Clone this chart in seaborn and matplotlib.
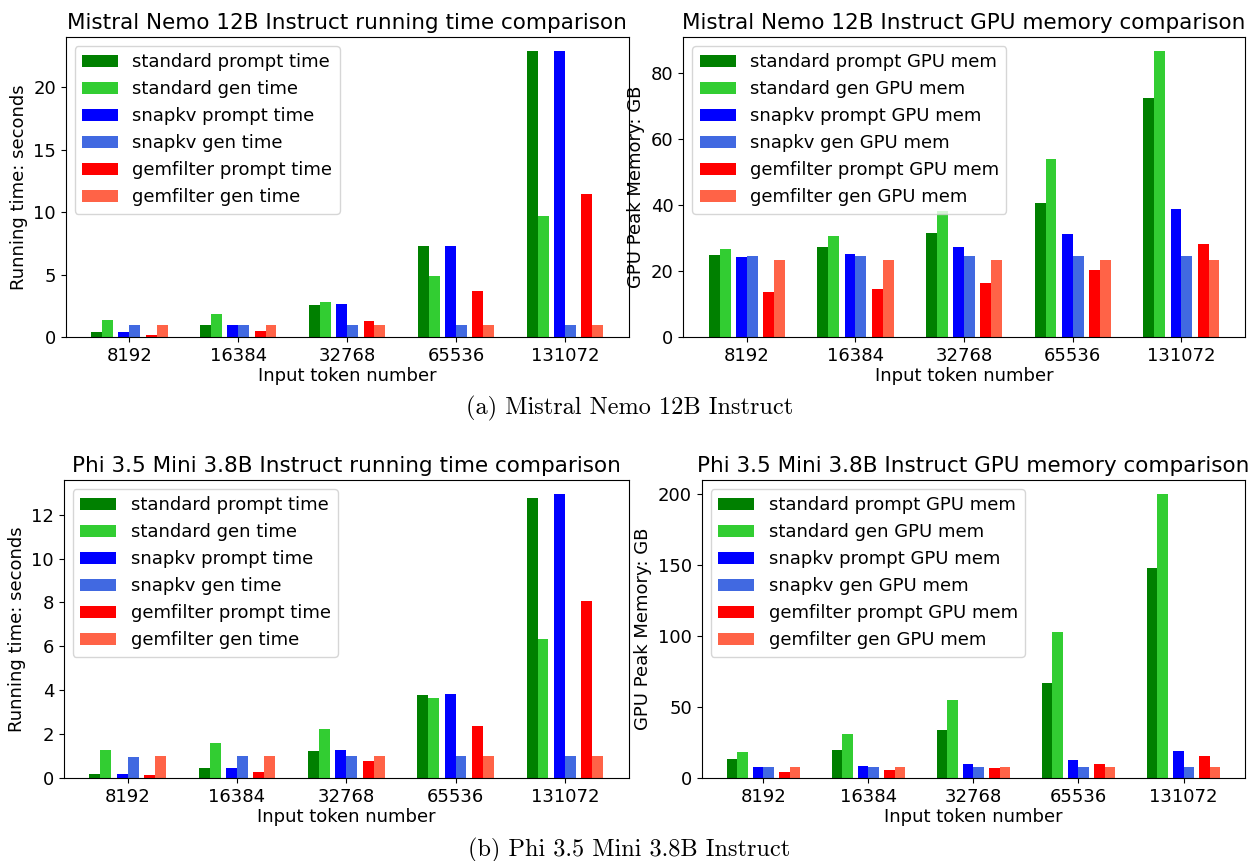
import matplotlib
matplotlib.use("Agg")
import matplotlib.pyplot as plt
import seaborn as sns
import numpy as np

# Input lengths (x categories)
tokens = ["8192", "16384", "32768", "65536", "131072"]

# Mistral Nemo 12B Instruct - running time (seconds)
mistral_std_prompt_time = [0.44, 1.0, 2.6, 7.3, 22.9]
mistral_std_gen_time = [1.39, 1.87, 2.8, 4.9, 9.7]
mistral_snap_prompt_time = [0.44, 1.0, 2.66, 7.3, 22.9]
mistral_snap_gen_time = [1.0, 1.0, 1.0, 1.0, 1.0]
mistral_gem_prompt_time = [0.2, 0.52, 1.3, 3.7, 11.5]
mistral_gem_gen_time = [1.0, 1.0, 1.0, 1.0, 1.0]

# Mistral Nemo 12B Instruct - GPU memory (GB)
mistral_std_prompt_mem = [24.8, 27.3, 31.5, 40.6, 72.4]
mistral_std_gen_mem = [26.7, 30.6, 38.3, 53.9, 86.7]
mistral_snap_prompt_mem = [24.2, 25.2, 27.3, 31.2, 38.8]
mistral_snap_gen_mem = [24.5, 24.5, 24.5, 24.5, 24.5]
mistral_gem_prompt_mem = [13.6, 14.5, 16.4, 20.3, 28.2]
mistral_gem_gen_mem = [23.3, 23.3, 23.3, 23.3, 23.3]

# Phi 3.5 Mini 3.8B Instruct - running time (seconds)
phi_std_prompt_time = [0.2, 0.47, 1.23, 3.78, 12.75]
phi_std_gen_time = [1.27, 1.59, 2.22, 3.65, 6.35]
phi_snap_prompt_time = [0.2, 0.47, 1.27, 3.83, 12.93]
phi_snap_gen_time = [0.96, 1.0, 1.0, 1.0, 1.0]
phi_gem_prompt_time = [0.14, 0.28, 0.78, 2.39, 8.06]
phi_gem_gen_time = [1.0, 1.0, 1.0, 1.0, 1.0]

# Phi 3.5 Mini 3.8B Instruct - GPU memory (GB)
phi_std_prompt_mem = [13.6, 20.0, 34.0, 67.0, 148.0]
phi_std_gen_mem = [18.5, 31.2, 55.2, 103.0, 199.6]
phi_snap_prompt_mem = [8.0, 8.7, 10.1, 12.9, 19.3]
phi_snap_gen_mem = [8.0, 8.0, 8.0, 8.0, 8.0]
phi_gem_prompt_mem = [4.5, 5.9, 7.3, 10.1, 15.8]
phi_gem_gen_mem = [8.0, 8.0, 8.0, 8.0, 8.0]

colors = ["green", "limegreen", "blue", "royalblue", "red", "tomato"]
offsets = [-0.3, -0.2, -0.05, 0.05, 0.2, 0.3]
bar_width = 0.1

time_labels = ["standard prompt time", "standard gen time",
               "snapkv prompt time", "snapkv gen time",
               "gemfilter prompt time", "gemfilter gen time"]
mem_labels = ["standard prompt GPU mem", "standard gen GPU mem",
              "snapkv prompt GPU mem", "snapkv gen GPU mem",
              "gemfilter prompt GPU mem", "gemfilter gen GPU mem"]


def draw_panel(ax, series, labels, title, ylabel):
    """Grouped bars with a small gap between each prompt/gen pair."""
    base = np.arange(len(tokens))
    for vals, lab, col, off in zip(series, labels, colors, offsets):
        sns.barplot(x=base + off, y=vals, native_scale=True, width=bar_width,
                    color=col, saturation=1, linewidth=0, errorbar=None,
                    label=lab, ax=ax)
    ax.set_xticks(base)
    ax.set_xticklabels(tokens, fontsize=13)
    ax.tick_params(axis="y", labelsize=13)
    ax.set_xlabel("Input token number", fontsize=13, labelpad=2)
    ax.set_ylabel(ylabel, fontsize=13)
    ax.set_title(title, fontsize=15.5)
    ax.legend(loc="upper left", fontsize=13)


fig = plt.figure(figsize=(12.51, 8.61), dpi=100)

ax1 = fig.add_axes([0.0525, 0.6086, 0.4501, 0.3484])
ax2 = fig.add_axes([0.5462, 0.6086, 0.4490, 0.3484])
ax3 = fig.add_axes([0.0510, 0.0964, 0.4516, 0.3461])
ax4 = fig.add_axes([0.5610, 0.0964, 0.4342, 0.3461])

draw_panel(ax1, [mistral_std_prompt_time, mistral_std_gen_time,
                 mistral_snap_prompt_time, mistral_snap_gen_time,
                 mistral_gem_prompt_time, mistral_gem_gen_time],
           time_labels, "Mistral Nemo 12B Instruct running time comparison",
           "Running time: seconds")
draw_panel(ax2, [mistral_std_prompt_mem, mistral_std_gen_mem,
                 mistral_snap_prompt_mem, mistral_snap_gen_mem,
                 mistral_gem_prompt_mem, mistral_gem_gen_mem],
           mem_labels, "Mistral Nemo 12B Instruct GPU memory comparison",
           "GPU Peak Memory: GB")
draw_panel(ax3, [phi_std_prompt_time, phi_std_gen_time,
                 phi_snap_prompt_time, phi_snap_gen_time,
                 phi_gem_prompt_time, phi_gem_gen_time],
           time_labels, "Phi 3.5 Mini 3.8B Instruct running time comparison",
           "Running time: seconds")
draw_panel(ax4, [phi_std_prompt_mem, phi_std_gen_mem,
                 phi_snap_prompt_mem, phi_snap_gen_mem,
                 phi_gem_prompt_mem, phi_gem_gen_mem],
           mem_labels, "Phi 3.5 Mini 3.8B Instruct GPU memory comparison",
           "GPU Peak Memory: GB")

# sub-figure captions
fig.text(0.503, 1 - 408 / 861, "(a) Mistral Nemo 12B Instruct",
         ha="center", va="center", fontsize=17.5, family="cmr10")
fig.text(0.503, 1 - 850 / 861, "(b) Phi 3.5 Mini 3.8B Instruct",
         ha="center", va="center", fontsize=17.5, family="cmr10")

fig.savefig("out.png", dpi=100)
